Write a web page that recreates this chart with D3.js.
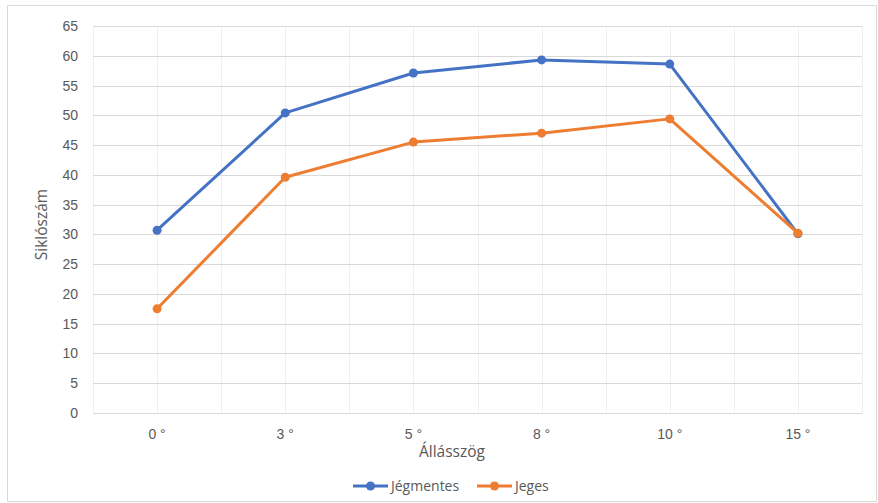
<!DOCTYPE html>
<html>
<head>
<meta charset="utf-8">
<script src="https://cdn.jsdelivr.net/npm/d3@7"></script>
<style>
  body { margin: 0; background: #fff; }
  svg { font-family: "Open Sans", "Liberation Sans", sans-serif; }
</style>
</head>
<body>
<svg id="chart" width="878" height="503"></svg>
<script>
const categories = ["0 °", "3 °", "5 °", "8 °", "10 °", "15 °"];
const jegmentes = [30.7, 50.4, 57.1, 59.3, 58.6, 30.1];
const jeges = [17.5, 39.6, 45.5, 47.0, 49.4, 30.2];
const yTicks = d3.range(0, 70, 5);

const series = [
  {name: "Jégmentes", values: jegmentes, color: "#4472C4"},
  {name: "Jeges", values: jeges, color: "#ED7D31"}
];

const svg = d3.select("#chart");
const margin = {left: 93, right: 16, top: 26, bottom: 90};
const width = 878 - margin.left - margin.right;
const height = 503 - margin.top - margin.bottom;

// chart border
svg.append("rect")
  .attr("x", 7.5).attr("y", 5.5)
  .attr("width", 869).attr("height", 496)
  .attr("fill", "none").attr("stroke", "#d9d9d9");

const g = svg.append("g")
  .attr("transform", `translate(${margin.left}, ${margin.top})`);

const x = d3.scaleBand()
  .domain(categories)
  .range([0, width]);

const y = d3.scaleLinear()
  .domain([0, 65])
  .range([height, 0]);

// vertical gridlines every half category
const halfSteps = d3.range(0, categories.length * 2 + 1).map(i => i * x.bandwidth() / 2);
g.selectAll(".vgrid")
  .data(halfSteps)
  .enter().append("line")
  .attr("x1", d => Math.round(d) + 0.5).attr("x2", d => Math.round(d) + 0.5)
  .attr("y1", 0).attr("y2", height)
  .attr("stroke", "#efefef").attr("stroke-width", 1);

// horizontal gridlines
g.selectAll(".hgrid")
  .data(yTicks)
  .enter().append("line")
  .attr("x1", 0).attr("x2", width)
  .attr("y1", d => Math.round(y(d)) + 0.5).attr("y2", d => Math.round(y(d)) + 0.5)
  .attr("stroke", "#d9d9d9").attr("stroke-width", 1);

// y axis labels
const yAxis = g.append("g")
  .call(d3.axisLeft(y).tickValues(yTicks).tickSize(0).tickPadding(15));
yAxis.select(".domain").remove();
yAxis.selectAll("text").attr("fill", "#595959").style("font-size", "14px");

// x axis labels
const xAxis = g.append("g")
  .attr("transform", `translate(0, ${height})`)
  .call(d3.axisBottom(x).tickSize(0).tickPadding(16));
xAxis.select(".domain").remove();
xAxis.selectAll("text").attr("fill", "#595959").style("font-size", "14px");

// axis titles
svg.append("text")
  .attr("transform", `translate(47, ${margin.top + height / 2 + 5}) rotate(-90)`)
  .attr("text-anchor", "middle")
  .attr("fill", "#595959")
  .style("font-size", "15.5px")
  .text("Siklószám");

svg.append("text")
  .attr("x", 452)
  .attr("y", 457)
  .attr("text-anchor", "middle")
  .attr("fill", "#595959")
  .style("font-size", "15.5px")
  .text("Állásszög");

// lines and markers
const line = d3.line()
  .x((d, i) => x(categories[i]) + x.bandwidth() / 2)
  .y(d => y(d));

series.forEach(s => {
  g.append("path")
    .datum(s.values)
    .attr("fill", "none")
    .attr("stroke", s.color)
    .attr("stroke-width", 3)
    .attr("stroke-linejoin", "round")
    .attr("d", line);

  g.selectAll(null)
    .data(s.values)
    .enter().append("circle")
    .attr("cx", (d, i) => x(categories[i]) + x.bandwidth() / 2)
    .attr("cy", d => y(d))
    .attr("r", 4.5)
    .attr("fill", s.color);
});

// legend
const legend = svg.append("g").attr("transform", "translate(353, 486)");
const legendX = [0, 124];
series.forEach((s, i) => {
  const lg = legend.append("g").attr("transform", `translate(${legendX[i]}, 0)`);
  lg.append("line")
    .attr("x1", 0).attr("x2", 35).attr("y1", 0).attr("y2", 0)
    .attr("stroke", s.color).attr("stroke-width", 3);
  lg.append("circle").attr("cx", 17.5).attr("cy", 0).attr("r", 4.5).attr("fill", s.color);
  lg.append("text")
    .attr("x", 38).attr("y", 5)
    .attr("fill", "#595959")
    .style("font-size", "14px")
    .text(s.name);
});
</script>
</body>
</html>
